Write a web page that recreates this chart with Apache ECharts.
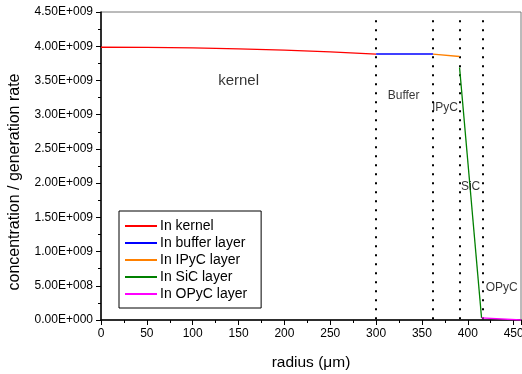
<!DOCTYPE html>
<html>
<head>
<meta charset="utf-8">
<script src="https://cdn.jsdelivr.net/npm/echarts@6/dist/echarts.min.js"></script>
<style>
html, body { margin: 0; padding: 0; background: #fff; }
#chart { width: 522px; height: 374px; }
</style>
</head>
<body>
<div id="chart"></div>
<script>
// layer data, radius in um
var kernelData = [[0, 3.985e9], [50, 3.982e9], [100, 3.975e9], [150, 3.962e9], [200, 3.943e9], [250, 3.917e9], [300, 3.886e9]];
var bufferData = [[300, 3.886e9], [362, 3.886e9]];
var ipycData = [[362, 3.886e9], [391, 3.85e9]];
var sicData = [[391, 3.69e9], [415, 0.03e9]];
var opycData = [[415, 0.03e9], [458, 0.0e9]];
var boundaries = [300, 362, 391, 416];
var layerLabels = [
	{ name: 'kernel', value: [150, 3.49e9], size: 15 },
	{ name: 'Buffer', value: [330, 3.27e9], size: 12 },
	{ name: 'IPyC', value: [375, 3.1e9], size: 12 },
	{ name: 'SiC', value: [403, 1.95e9], size: 12 },
	{ name: 'OPyC', value: [437, 0.47e9], size: 12 }
];
var seriesNames = ['In kernel', 'In buffer layer', 'In IPyC layer', 'In SiC layer', 'In OPyC layer'];
var seriesColors = ['#ff0000', '#0000ff', '#ff8000', '#008000', '#ff00ff'];

var dom = document.getElementById('chart');
var chart = echarts.init(dom);

function fmtE(v) {
	if (v == 0) return '0.00E+000';
	var e = Math.floor(Math.log10(v) + 1e-9);
	var m = v / Math.pow(10, e);
	var es = String(e);
	while (es.length < 3) es = '0' + es;
	return m.toFixed(2) + 'E+' + es;
}

var allData = [kernelData, bufferData, ipycData, sicData, opycData];
var series = [];
for (var i = 0; i < allData.length; i++) {
	series.push({
		name: seriesNames[i],
		type: 'line',
		data: allData[i],
		showSymbol: false,
		lineStyle: { width: 1.3, color: seriesColors[i] },
		itemStyle: { color: seriesColors[i] },
		z: 5
	});
}
// dotted layer boundaries
series.push({
	type: 'line',
	data: [],
	silent: true,
	markLine: {
		symbol: 'none',
		silent: true,
		label: { show: false },
		lineStyle: { color: '#000', type: [2, 7], width: 2 },
		data: boundaries.map(function (b) {
			return [{ coord: [b, 4.38e9] }, { coord: [b, 0] }];
		})
	}
});
// region labels
series.push({
	type: 'scatter',
	data: layerLabels.map(function (d) {
		return { name: d.name, value: d.value, label: { fontSize: d.size } };
	}),
	symbolSize: 0,
	silent: true,
	label: {
		show: true,
		position: 'inside',
		formatter: '{b}',
		color: '#000',
		fontFamily: 'Liberation Sans'
	},
	z: 6
});

var option = {
	animation: false,
	textStyle: { fontFamily: 'Liberation Sans' },
	grid: {
		left: 101, right: 1, top: 12, bottom: 54,
		outerBoundsMode: 'none',
		containLabel: false,
		show: true, borderColor: '#777', borderWidth: 1
	},
	legend: {
		orient: 'vertical',
		left: 119, top: 211,
		padding: [8, 14, 7, 6],
		itemGap: 3,
		itemWidth: 32,
		itemHeight: 2,
		borderColor: '#000',
		borderWidth: 1,
		backgroundColor: '#fff',
		icon: 'rect',
		data: seriesNames,
		textStyle: { fontSize: 14, color: '#000', padding: [0, 0, 0, -2] }
	},
	xAxis: {
		type: 'value',
		min: 0, max: 458, interval: 50,
		name: 'radius (\u03bcm)',
		nameLocation: 'middle',
		nameGap: 35,
		nameTextStyle: { fontSize: 15.5, color: '#000' },
		axisLine: { lineStyle: { color: '#000', width: 1.5 } },
		axisTick: { show: true, length: 5, lineStyle: { color: '#000' } },
		minorTick: { show: true, splitNumber: 2, length: 3, lineStyle: { color: '#000' } },
		axisLabel: {
			color: '#000', fontSize: 12, margin: 8,
			showMaxLabel: true,
			formatter: function (v) { return v % 50 == 0 ? String(v) : ''; }
		},
		splitLine: { show: false }
	},
	yAxis: {
		type: 'value',
		min: 0, max: 4.5e9, interval: 0.5e9,
		name: 'concentration / generation rate',
		nameLocation: 'middle',
		nameGap: 78,
		nameTextStyle: { fontSize: 16, color: '#000', padding: [0, 32, 0, 0] },
		axisLine: { lineStyle: { color: '#000', width: 1.5 } },
		axisTick: { show: true, length: 5, lineStyle: { color: '#000' } },
		minorTick: { show: true, splitNumber: 2, length: 3, lineStyle: { color: '#000' } },
		axisLabel: { color: '#000', fontSize: 12, margin: 8, formatter: fmtE },
		splitLine: { show: false }
	},
	series: series
};
chart.setOption(option, true);
</script>
</body>
</html>
